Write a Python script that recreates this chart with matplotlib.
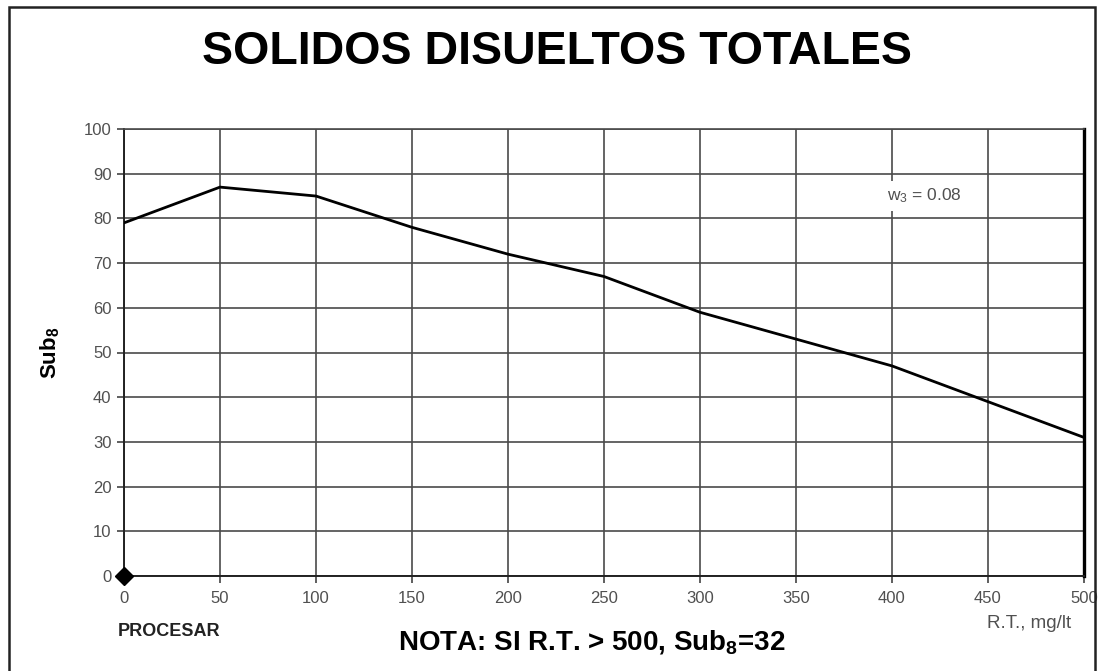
import matplotlib
matplotlib.use("Agg")
import matplotlib.pyplot as plt
from matplotlib.patches import Rectangle

plt.rcParams['font.family'] = ['Liberation Sans', 'DejaVu Sans']
plt.rcParams['mathtext.fontset'] = 'custom'
plt.rcParams['mathtext.rm'] = 'Liberation Sans'
plt.rcParams['mathtext.it'] = 'Liberation Sans'
plt.rcParams['mathtext.bf'] = 'Liberation Sans:bold'

# Data
rt_values = [0, 50, 100, 150, 200, 250, 300, 350, 400, 450, 500]
sub8_values = [79, 87, 85, 78, 72, 67, 59, 53, 47, 39, 31]
marker_x = [0]
marker_y = [0]
x_ticks = [0, 50, 100, 150, 200, 250, 300, 350, 400, 450, 500]
y_ticks = [0, 10, 20, 30, 40, 50, 60, 70, 80, 90, 100]

W, H = 1098, 671
fig = plt.figure(figsize=(W / 100, H / 100), dpi=100)
fig.patch.set_facecolor('white')

ax = fig.add_axes([124 / W, 1 - 576 / H, (1084 - 124) / W, (576 - 129) / H])
ax.set_xlim(0, 500)
ax.set_ylim(0, 100)
ax.set_xticks(x_ticks)
ax.set_yticks(y_ticks)
ax.grid(True, color='#4a4a4a', linewidth=1.2)
ax.set_axisbelow(True)

ax.plot(rt_values, sub8_values, color='black', linewidth=2.0, zorder=3)
ax.plot(marker_x, marker_y, marker='D', color='black', markersize=9,
        linestyle='none', clip_on=False, zorder=4)

ax.spines['top'].set_color('#4a4a4a')
ax.spines['top'].set_linewidth(1.2)
ax.spines['left'].set_color('#222222')
ax.spines['left'].set_linewidth(1.4)
ax.spines['bottom'].set_color('#222222')
ax.spines['bottom'].set_linewidth(1.4)
ax.spines['right'].set_color('black')
ax.spines['right'].set_linewidth(2.4)

ax.tick_params(axis='both', direction='out', length=5, width=1.1,
               color='#333333', labelcolor='#505050', labelsize=12)
ax.tick_params(axis='x', pad=6)
ax.tick_params(axis='y', pad=4)

ax.set_ylabel(r'Sub$_{\mathbf{8}}$', fontsize=16, fontweight='bold', labelpad=16)

ax.text(417, 85, r'w$_3$ = 0.08', fontsize=12.5, color='#505050',
        ha='center', va='center',
        bbox=dict(facecolor='white', edgecolor='none', pad=4), zorder=5)

fig.text(557 / W, 1 - 52 / H, 'SOLIDOS DISUELTOS TOTALES', fontsize=33.5,
         fontweight='bold', ha='center', va='center')
fig.text(118 / W, 1 - 632 / H, 'PROCESAR', fontsize=13, fontweight='bold',
         ha='left', va='center', color='#222222')
fig.text(592 / W, 1 - 642 / H, r'NOTA: SI R.T. > 500, Sub$_{\mathbf{8}}$=32',
         fontsize=20, fontweight='bold', ha='center', va='center')
fig.text(1071 / W, 1 - 624 / H, 'R.T., mg/lt', fontsize=13.5, color='#505050',
         ha='right', va='center')

border = Rectangle((9 / W, -0.05), (1095 - 9) / W, (1 - 7 / H) + 0.05,
                   transform=fig.transFigure, fill=False, edgecolor='#222222',
                   linewidth=1.8, zorder=10)
fig.add_artist(border)

fig.savefig('out.png', dpi=100, facecolor='white')
